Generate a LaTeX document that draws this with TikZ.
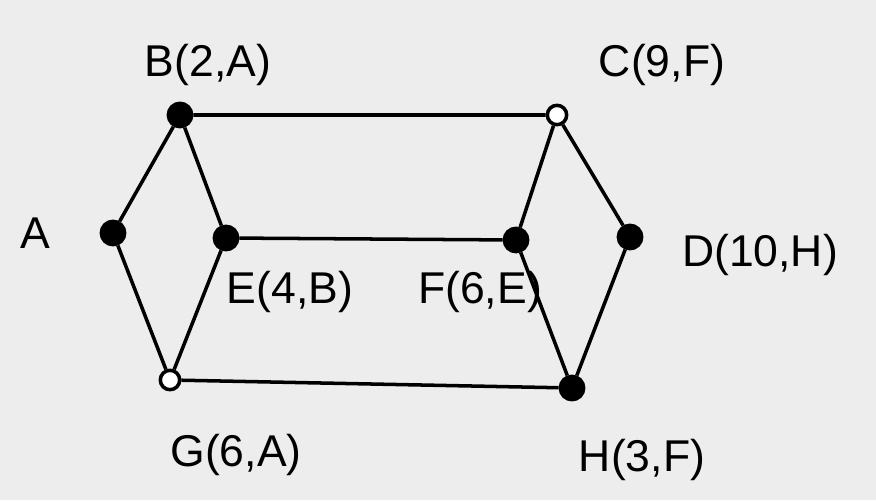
\documentclass[tikz,border=0pt]{standalone}
\usepackage{fontspec}
\setmainfont{Liberation Sans}
\usetikzlibrary{math}

\begin{document}
\begin{tikzpicture}[x=0.03cm,y=0.03cm,
  full/.style={circle,fill=black,draw=black,line width=3pt,minimum size=0.7cm,inner sep=0pt},
  hollow/.style={circle,fill=white,draw=black,line width=3pt,minimum size=0.58cm,inner sep=0pt},
  lbl/.style={font=\fontsize{38}{40}\selectfont}]
\tikzmath{
\W=876;
\H=500;
}
\fill[gray!14] (0,0) rectangle (\W,\H);
\useasboundingbox (0,0) rectangle (\W,\H);

\node[full] (A) at (113,267) {};
\node[full] (B) at (180,385) {};
\node[hollow] (C) at (557,385) {};
\node[full] (D) at (630,263) {};
\node[full] (E) at (226,262) {};
\node[full] (F) at (516,260) {};
\node[hollow] (G) at (170,120) {};
\node[full] (H) at (572,112) {};

\draw[line width = 3pt] (A) -- (B) (B) -- (E) (A) -- (G) (E) -- (G);
\draw[line width = 3pt] (B) -- (C) (E) -- (F) (G) -- (H);
\draw[line width = 3pt] (C) -- (F) (C) -- (D) (D) -- (H) (F) -- (H);

\node[lbl] (lA) at (35,267) {A};
\node[lbl] (lB) at (208,435) {B(2,A)};
\node[lbl] (lC) at (662,435) {C(9,F)};
\node[lbl] (lD) at (760,245) {D(10,H)};
\node[lbl] (lE) at (290,208) {E(4,B)};
\node[lbl] (lF) at (480,208) {F(6,E)};
\node[lbl] (lG) at (236,45) {G(6,A)};
\node[lbl] (lH) at (642,40) {H(3,F)};
\end{tikzpicture}
\end{document}
